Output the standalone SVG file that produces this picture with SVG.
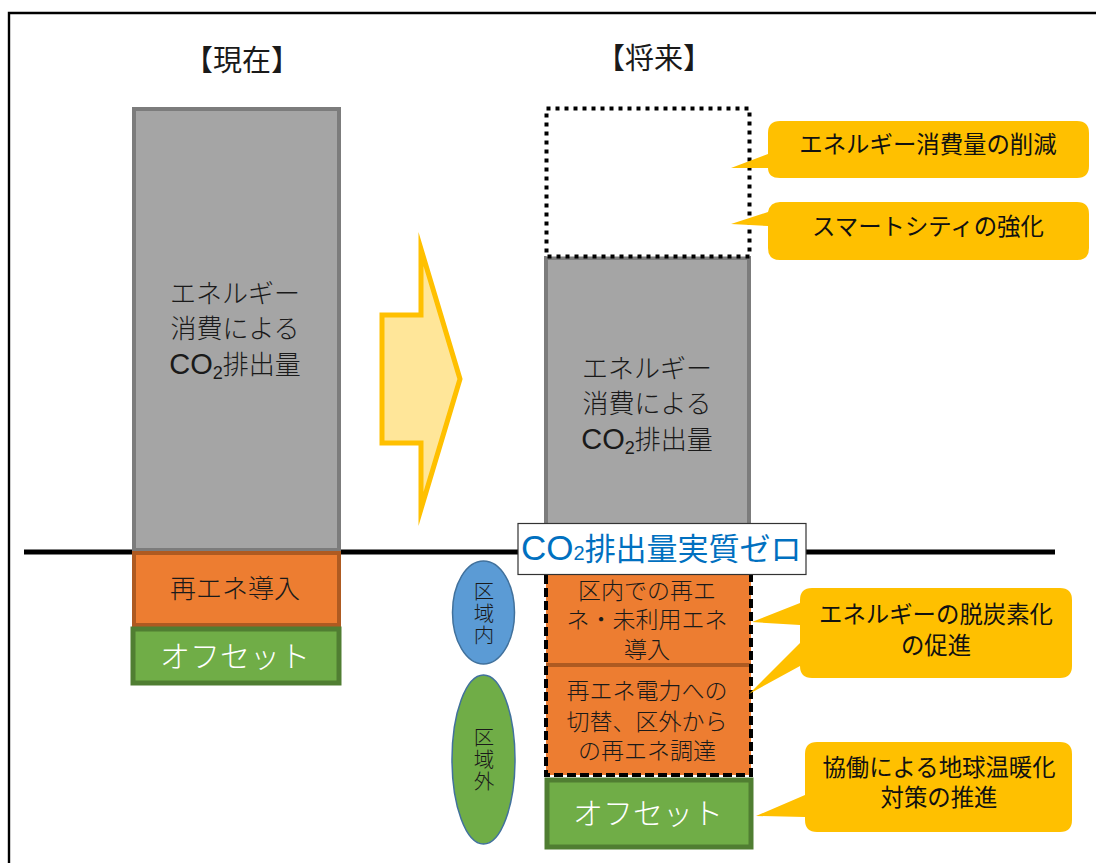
<svg xmlns="http://www.w3.org/2000/svg" width="1096" height="863" viewBox="0 0 1096 863">
<style>
text{font-family:"Noto Sans CJK JP","Noto Sans",sans-serif;text-anchor:middle;fill:#1a1a1a;font-weight:300}
.gray{fill:#A5A5A5;stroke:#7C7C7C;stroke-width:4}
.orange{fill:#ED7D31;stroke:#AE5A21;stroke-width:4}
.green{fill:#70AD47;stroke:#507E32;stroke-width:5}
.call{fill:#FFC000}
.ct{font-size:23.4px;font-weight:400;fill:#111;font-family:"Liberation Sans","Noto Sans CJK JP",sans-serif}
.bt{font-size:26px}
.ot{font-size:23px;font-family:"Liberation Sans","Noto Sans CJK JP",sans-serif}
.wt{font-size:30px;fill:#fff}
.ht{font-size:29px;font-weight:400}
.et{font-size:20.5px;writing-mode:vertical-rl;letter-spacing:1.5px}
.la{font-family:"Liberation Sans",sans-serif}
</style>
<rect width="1096" height="863" fill="#fff"/>
<path d="M9 863V13H1096" fill="none" stroke="#000" stroke-width="2.4"/>
<g id="connectors"><line x1="24" y1="552" x2="1055" y2="552" stroke="#000" stroke-width="5"/></g>
<text class="ht" x="242" y="71">【現在】</text>
<text class="ht" x="654" y="69">【将来】</text>
<g id="current-energy"><rect class="gray" x="134" y="109" width="205" height="441"/>
<text class="bt" x="235" y="303">エネルギー</text><text class="bt" x="235" y="338">消費による</text><text class="bt" x="235" y="374"><tspan class="la" font-size="29">CO</tspan><tspan class="la" font-size="18" dy="5">2</tspan><tspan dy="-5">排出量</tspan></text></g>
<g id="current-renewable"><rect class="orange" x="134" y="553" width="205" height="72"/><text class="bt" x="235" y="598">再エネ導入</text></g>
<g id="current-offset"><rect class="green" x="133" y="629" width="206" height="54"/><text class="wt" x="235" y="667">オフセット</text></g>
<g id="transition-arrow"><path d="M382 315H421V249L460 379L421 509V443H382Z" fill="#FFE699" stroke="#FFC000" stroke-width="5" stroke-miterlimit="12"/></g>
<g id="future-energy"><rect class="gray" x="546" y="258" width="203" height="270"/>
<text class="bt" x="647" y="378">エネルギー</text><text class="bt" x="647" y="413">消費による</text><text class="bt" x="647" y="449"><tspan class="la" font-size="29">CO</tspan><tspan class="la" font-size="18" dy="5">2</tspan><tspan dy="-5">排出量</tspan></text></g>
<g id="future-reduction"><rect x="546.500" y="108.500" width="203" height="148" fill="#fff" stroke="#000" stroke-width="4" stroke-dasharray="4 5"/></g>
<g id="inside-renewable"><rect x="546" y="570" width="205" height="95" fill="#ED7D31"/>
<text class="ot" x="647" y="599">区内での再エ</text><text class="ot" x="647" y="628">ネ・未利用エネ</text><text class="ot" x="647" y="658">導入</text></g>
<g id="outside-renewable"><rect x="546" y="665" width="205" height="110" fill="#ED7D31"/>
<text class="ot" x="647" y="699">再エネ電力への</text><text class="ot" x="647" y="730">切替、区外から</text><text class="ot" x="647" y="759">の再エネ調達</text></g>
<line x1="546" y1="665" x2="751" y2="665" stroke="#AE5A21" stroke-width="4"/>
<rect x="546" y="570" width="205" height="205" fill="none" stroke="#000" stroke-width="4" stroke-dasharray="9 4"/>
<g id="future-offset"><rect class="green" x="547" y="780" width="204" height="67"/><text class="wt" x="648" y="824">オフセット</text></g>
<g id="inside-area"><ellipse cx="483.500" cy="612.500" rx="31" ry="51.500" fill="#5B9BD5" stroke="#41719C" stroke-width="1.500"/><text class="et" x="484" y="614">区域内</text></g>
<g id="outside-area"><ellipse cx="483.500" cy="759.500" rx="31.500" ry="84.500" fill="#70AD47" stroke="#41719C" stroke-width="1.500"/><text class="et" x="484" y="760">区域外</text></g>
<g id="label-zero"><rect x="518" y="523.500" width="288" height="51" fill="#fff" stroke="#333" stroke-width="1.200"/><text x="521" y="560" style="fill:#0070C0;font-weight:400;text-anchor:start;font-size:31px"><tspan class="la" font-size="35">CO</tspan><tspan class="la" font-size="20">2</tspan>排出量実質ゼロ</text></g>
<g id="callout-reduce"><path class="call" d="M768 154V133Q768 121 780 121H1077Q1089 121 1089 133V166Q1089 178 1077 178H780Q768 178 768 168H731Z"/><text class="ct" x="928" y="153">エネルギー消費量の削減</text></g>
<g id="callout-smart"><path class="call" d="M768 212Q770 202 780 202H1077Q1089 202 1089 214V248Q1089 260 1077 260H780Q768 260 768 248V226L731 224Z"/><text class="ct" x="928" y="235">スマートシティの強化</text></g>
<g id="callout-decarb"><path class="call" d="M800 603V600Q800 588 812 588H1060Q1072 588 1072 600V666Q1072 678 1060 678H812Q800 678 800 666L749 694L800 643V625L752 622Z"/><text class="ct" x="936" y="623">エネルギーの脱炭素化</text><text class="ct" x="936" y="654">の促進</text></g>
<g id="callout-collab"><path class="call" d="M805 795V754Q805 742 817 742H1060Q1072 742 1072 754V820Q1072 832 1060 832H817Q805 832 805 820V817L756 816Z"/><text class="ct" x="939" y="776">協働による地球温暖化</text><text class="ct" x="939" y="806">対策の推進</text></g>
</svg>
